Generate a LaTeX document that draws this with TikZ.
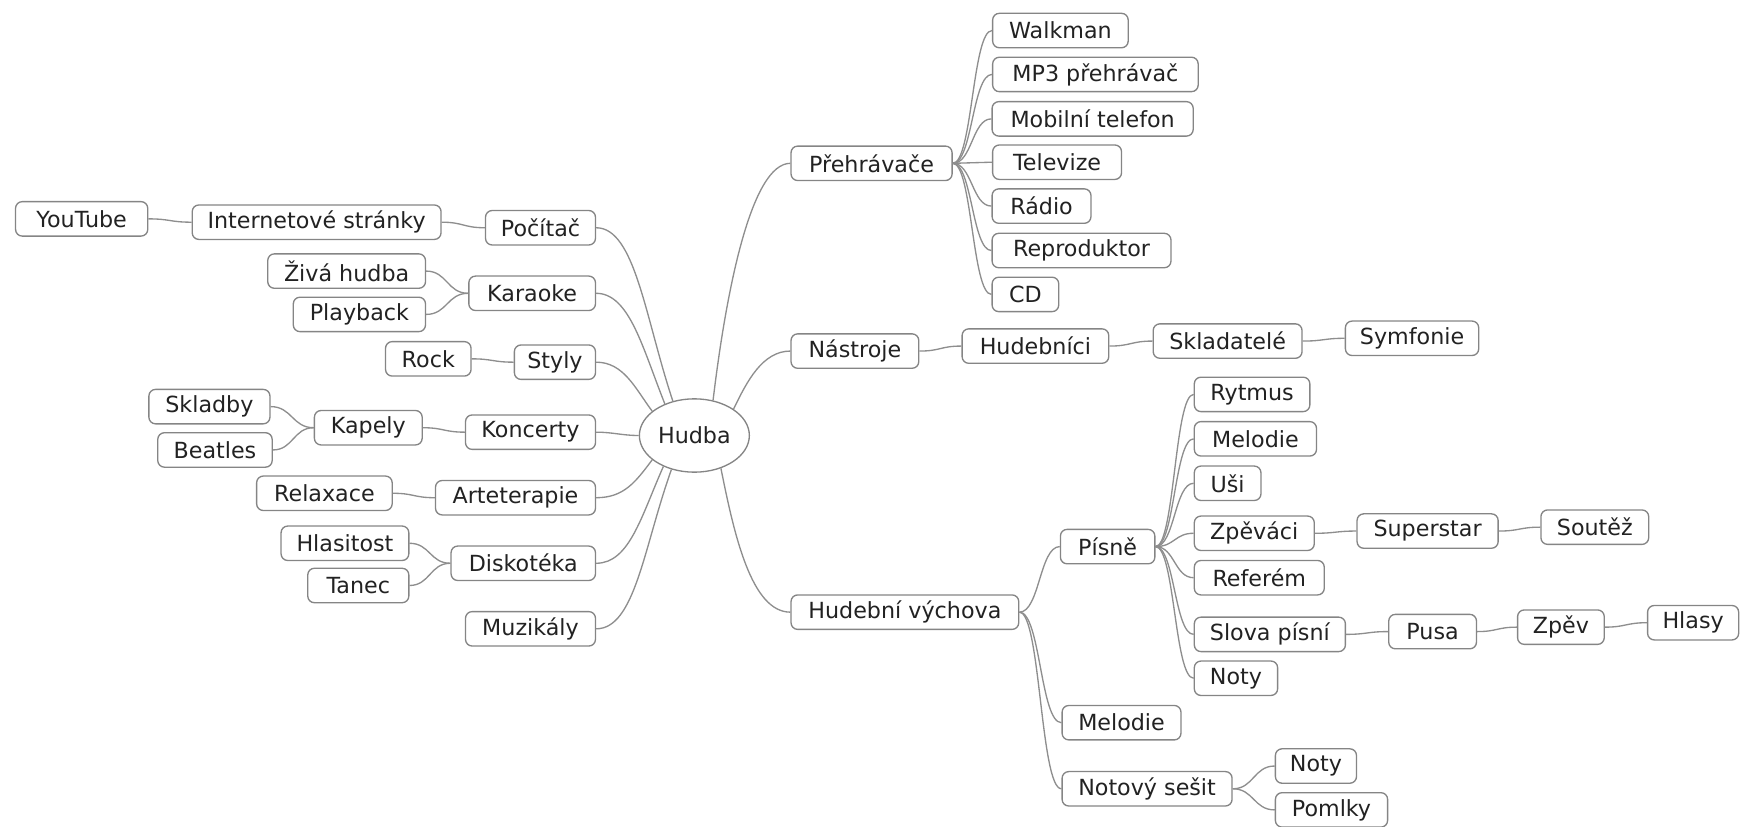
\documentclass[tikz,border=0pt]{standalone}
\usepackage{fontspec}
\setmainfont{DejaVu Sans}
\usetikzlibrary{calc,shapes.geometric}
\definecolor{boxcol}{HTML}{858585}
\definecolor{linecol}{HTML}{8E8E8E}
\definecolor{txtcol}{HTML}{222222}
\newcommand\conR[2]{\draw[ln] let \p1=(#1.east), \p2=(#2.west) in (\p1) .. controls ({(\x1+\x2)/2},\y1) and ({(\x1+\x2)/2},\y2) .. (\p2);}
\newcommand\conL[2]{\draw[ln] let \p1=(#1.west), \p2=(#2.east) in (\p1) .. controls ({(\x1+\x2)/2},\y1) and ({(\x1+\x2)/2},\y2) .. (\p2);}
\begin{document}
\begin{tikzpicture}[x=1pt,y=-1pt,
  box/.style={draw=boxcol, line width=1.2pt, rounded corners=6pt, minimum height=31pt, inner sep=0pt, text=txtcol, font=\fontsize{20}{24}\selectfont, fill=white},
  nd/.style={box, minimum width=#1pt},
  ln/.style={draw=linecol, line width=1.2pt}]
\useasboundingbox (0,0) rectangle (1568,744);
% centre
\node[ellipse, draw=boxcol, line width=1.2pt, minimum width=99pt, minimum height=66pt, inner sep=0pt, text=txtcol, font=\fontsize{20}{24}\selectfont, fill=white] (hudba) at (625,392) {Hudba};
% left side
\node[nd=119] (yt) at (73.5,197) {YouTube};
\node[nd=224] (inet) at (285,200) {Internetové stránky};
\node[nd=99] (poc) at (486.5,205) {Počítač};
\node[nd=142] (ziva) at (312,244) {Živá hudba};
\node[nd=114] (kar) at (479,264) {Karaoke};
\node[nd=119] (play) at (323.5,283) {Playback};
\node[nd=77] (rock) at (385.5,323) {Rock};
\node[nd=73] (styly) at (499.5,326) {Styly};
\node[nd=109] (skl) at (188.5,366) {Skladby};
\node[nd=97] (kap) at (331.5,385) {Kapely};
\node[nd=103] (beat) at (193.5,405) {Beatles};
\node[nd=117] (konc) at (477.5,389) {Koncerty};
\node[nd=122] (relax) at (292,444) {Relaxace};
\node[nd=144] (arte) at (464,448) {Arteterapie};
\node[nd=115] (hlas) at (310.5,489) {Hlasitost};
\node[nd=130] (disk) at (471,507) {Diskotéka};
\node[nd=91] (tanec) at (322.5,527) {Tanec};
\node[nd=117] (muz) at (477.5,566) {Muzikály};
% right side
\node[nd=145] (preh) at (784.5,147) {Přehrávače};
\node[nd=122] (walk) at (954.5,27.5) {Walkman};
\node[nd=185] (mp3) at (986,67) {MP3 přehrávač};
\node[nd=181] (mob) at (983.5,107) {Mobilní telefon};
\node[nd=116] (tv) at (951.5,146) {Televize};
\node[nd=89] (radio) at (937.5,185.5) {Rádio};
\node[nd=161] (repro) at (973.5,225.5) {Reproduktor};
\node[nd=60] (cd) at (923,265) {CD};
\node[nd=115] (nas) at (769.5,316) {Nástroje};
\node[nd=132] (hudeb) at (932,311.5) {Hudebníci};
\node[nd=134] (sklad) at (1105,307) {Skladatelé};
\node[nd=120] (symf) at (1271,304.5) {Symfonie};
\node[nd=205] (hv) at (814.5,551) {Hudební výchova};
\node[nd=85] (pisne) at (997,492) {Písně};
\node[nd=104] (rytm) at (1127,355) {Rytmus};
\node[nd=110] (mel) at (1130,395) {Melodie};
\node[nd=60] (usi) at (1105,435) {Uši};
\node[nd=108] (zpevaci) at (1129,480) {Zpěváci};
\node[nd=127] (super) at (1285,478) {Superstar};
\node[nd=97] (soutez) at (1435.5,474.5) {Soutěž};
\node[nd=117] (refer) at (1133.5,520) {Referém};
\node[nd=136] (slova) at (1143,571) {Slova písní};
\node[nd=79] (pusa) at (1289.5,568.5) {Pusa};
\node[nd=78] (zpev) at (1405,564.5) {Zpěv};
\node[nd=82] (hlasy) at (1524,560.5) {Hlasy};
\node[nd=75] (noty) at (1112.5,610.5) {Noty};
\node[nd=107] (mel2) at (1009.5,650.5) {Melodie};
\node[nd=153] (ns) at (1032.5,710) {Notový sešit};
\node[nd=73] (noty2) at (1184.5,689.5) {Noty};
\node[nd=101] (pomlky) at (1198.5,729) {Pomlky};
% connectors from centre
\begin{scope}[on background layer/.try]
\end{scope}
\draw[ln] (poc.east) .. controls +(35,0) and +(-25,-75) .. (hudba.122);
\draw[ln] (kar.east) .. controls +(30,0) and +(-20,-50) .. (hudba.133);
\draw[ln] (styly.east) .. controls +(25,0) and +(-15,-20) .. (hudba.150);
\draw[ln] (konc.east) .. controls +(15,0) and +(-15,0) .. (hudba.180);
\draw[ln] (arte.east) .. controls +(25,0) and +(-15,20) .. (hudba.210);
\draw[ln] (disk.east) .. controls +(30,0) and +(-20,45) .. (hudba.225);
\draw[ln] (muz.east) .. controls +(35,0) and +(-25,70) .. (hudba.236);
\draw[ln] (preh.west) .. controls +(-35,0) and +(12,-100) .. (hudba.62);
\draw[ln] (nas.west) .. controls +(-25,0) and +(12,-25) .. (hudba.34);
\draw[ln] (hv.west) .. controls +(-35,0) and +(12,60) .. (hudba.309);
% left branches
\conL{poc}{inet}
\conL{inet}{yt}
\conL{kar}{ziva}
\conL{kar}{play}
\conL{styly}{rock}
\conL{konc}{kap}
\conL{kap}{skl}
\conL{kap}{beat}
\conL{arte}{relax}
\conL{disk}{hlas}
\conL{disk}{tanec}
% right branches
\conR{preh}{walk}
\conR{preh}{mp3}
\conR{preh}{mob}
\conR{preh}{tv}
\conR{preh}{radio}
\conR{preh}{repro}
\conR{preh}{cd}
\conR{nas}{hudeb}
\conR{hudeb}{sklad}
\conR{sklad}{symf}
\conR{hv}{pisne}
\conR{hv}{mel2}
\conR{hv}{ns}
\conR{pisne}{rytm}
\conR{pisne}{mel}
\conR{pisne}{usi}
\conR{pisne}{zpevaci}
\conR{pisne}{refer}
\conR{pisne}{slova}
\conR{pisne}{noty}
\conR{zpevaci}{super}
\conR{super}{soutez}
\conR{slova}{pusa}
\conR{pusa}{zpev}
\conR{zpev}{hlasy}
\conR{ns}{noty2}
\conR{ns}{pomlky}
\end{tikzpicture}
\end{document}
